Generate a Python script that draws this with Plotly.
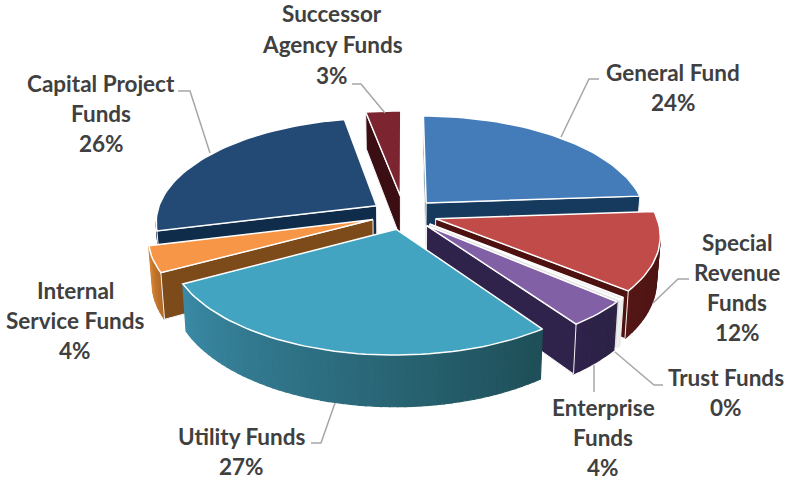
import math
import plotly.graph_objects as go

# ---- data ----
categories = ["General Fund", "Special Revenue Funds", "Trust Funds", "Enterprise Funds",
              "Utility Funds", "Internal Service Funds", "Capital Project Funds", "Successor Agency Funds"]
values = [24, 12, 0.4, 4, 27, 4, 26, 3]
percent_labels = ["24%", "12%", "0%", "4%", "27%", "4%", "26%", "3%"]
label_lines = [["General Fund"], ["Special", "Revenue", "Funds"], ["Trust Funds"], ["Enterprise", "Funds"],
               ["Utility Funds"], ["Internal", "Service Funds"], ["Capital Project", "Funds"],
               ["Successor", "Agency Funds"]]

# ---- styling ----
top_colors = ["#447bb9", "#c04b48", "#efefef", "#8260a6", "#42a4c1", "#f79646", "#224a75", "#7c2530"]
radial_colors = ["#163a5e", "#4d1210", "#e0e0e0", "#30234b", "#2f7f95", "#7d4a1a", "#0f2c4a", "#3a0e12"]
arc_colors = [("#163a5e", "#163a5e"), ("#551716", "#4a1412"), ("#ececec", "#ececec"), ("#30234b", "#2c2246"),
              ("#3a8aa5", "#1f4f58"), ("#d48232", "#b06a28"), ("#0f2c4a", "#0f2c4a"), ("#3a0e12", "#3a0e12")]
explode = [0.15, 0.15, 0.15, 0.15, 0.15, 0.15, 0.15, 0.18]
label_pos = [(673, 72, 30), (737, 242, 30), (726, 377, 30), (603, 407, 30),
             (241, 436, 30), (75, 290, 30), (101, 83, 30), (332, 13, 31)]
leaders = [[(599, 79), (589, 79), (561, 137)],
           [(689, 279), (678, 279), (653, 303)],
           [(663, 385), (654, 385), (615, 352)],
           [(594, 392), (594, 365)],
           [(311, 443), (321, 443), (335, 403)],
           [(178, 91), (190, 91), (210, 153)],
           [(352, 84), (361, 84), (385, 113)]]
CX, CY, SX, SY, K, DEPTH, TAPER = 404, 214, 220, 102.6, 0.1455, 43, 0.985


def project(wx, wv, below=False):
    s = 1 / (1 - K * wv)
    px = CX + SX * wx * s
    py = CY + SY * wv * s
    if below:
        px = CX + (px - CX) * TAPER
        py += DEPTH * s
    return px, py


def mix(c0, c1, t):
    a = [int(c0[i:i + 2], 16) for i in (1, 3, 5)]
    b = [int(c1[i:i + 2], 16) for i in (1, 3, 5)]
    return "rgb(%d,%d,%d)" % tuple(a[i] + (b[i] - a[i]) * t for i in range(3))


fig = go.Figure()


def poly(points, fill, line="rgba(0,0,0,0)", width=0.5):
    xs = [p[0] for p in points] + [points[0][0]]
    ys = [p[1] for p in points] + [points[0][1]]
    fig.add_trace(go.Scatter(x=xs, y=ys, mode="lines", fill="toself", fillcolor=fill,
                             line=dict(color=line, width=width), hoverinfo="skip", showlegend=False))


total = sum(values)
angles = [0]
for v in values:
    angles.append(angles[-1] + v / total * 2 * math.pi)

# back slices first, front slices last
draw_order = [7, 6, 0, 5, 1, 2, 3, 4]
for i in draw_order:
    a0, a1 = angles[i], angles[i + 1]
    mid = (a0 + a1) / 2
    ox, ov = explode[i] * math.sin(mid), -explode[i] * math.cos(mid)
    n = max(2, int((a1 - a0) / 0.03))
    arc_w = [(ox + math.sin(a0 + (a1 - a0) * j / n), ov - math.cos(a0 + (a1 - a0) * j / n)) for j in range(n + 1)]
    apex = (ox, ov)
    pts = [project(*w) for w in arc_w]
    # outer wall, shaded in strips
    c0, c1 = arc_colors[i]
    vis = [j for j in range(n) if pts[j + 1][0] < pts[j][0]]
    for k, j in enumerate(vis):
        t = k / max(1, len(vis) - 1)
        col = mix(c1, c0, t)
        poly([project(*arc_w[j]), project(*arc_w[j + 1]), project(*arc_w[j + 1], True), project(*arc_w[j], True)], col, col, 1.2)
    # radial walls
    for p, q in ((apex, arc_w[0]), (arc_w[-1], apex)):
        if project(*q)[0] < project(*p)[0]:
            poly([project(*p), project(*q), project(*q, True), project(*p, True)], radial_colors[i], "#f4f4f4", 1)
    # top face
    poly([project(*apex)] + pts, top_colors[i], "#ffffff", 1.5)

for seg in leaders:
    fig.add_trace(go.Scatter(x=[p[0] for p in seg], y=[p[1] for p in seg], mode="lines",
                             line=dict(color="#a6a6a6", width=1.5), hoverinfo="skip", showlegend=False))

annotations = []
for lines, pct, (x, y, step) in zip(label_lines, percent_labels, label_pos):
    for n, text in enumerate(lines + [pct]):
        annotations.append(dict(x=x, y=y + n * step, text=text, xref="x", yref="y", showarrow=False,
                                xanchor="center", yanchor="middle",
                                font=dict(family="Lato", size=22.5, color="#404040", weight=700)))

fig.update_layout(width=785, height=481, margin=dict(l=0, r=0, t=0, b=0), paper_bgcolor="white",
                  plot_bgcolor="white", annotations=annotations, showlegend=False,
                  xaxis=dict(range=[0, 785], visible=False, fixedrange=True),
                  yaxis=dict(range=[481, 0], visible=False, fixedrange=True))
fig.write_html("out.html", config={"displayModeBar": False},
               post_script="document.body.style.margin='0';")
